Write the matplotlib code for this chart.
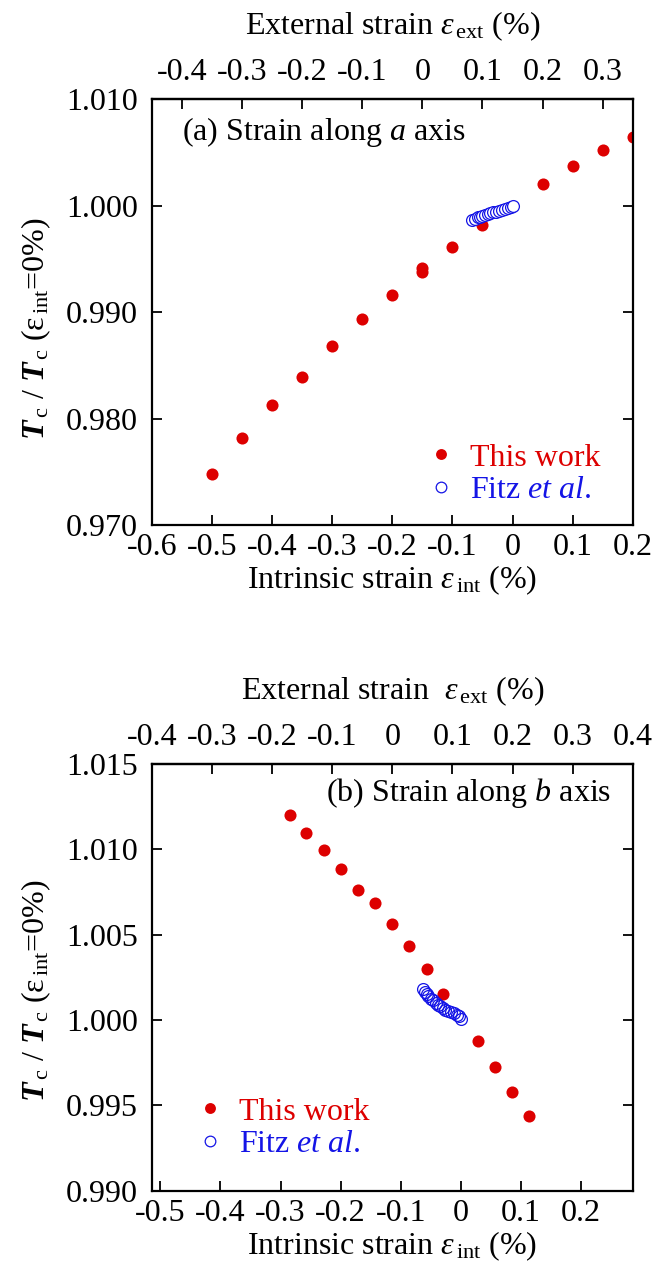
import matplotlib
matplotlib.use('Agg')
import matplotlib.pyplot as plt
import numpy as np
from matplotlib.ticker import FuncFormatter, FixedLocator

plt.rcParams['font.family'] = ['Liberation Serif', 'DejaVu Serif']
plt.rcParams['mathtext.fontset'] = 'custom'
plt.rcParams['mathtext.rm'] = 'Liberation Serif'
plt.rcParams['mathtext.it'] = 'Liberation Serif:italic'
plt.rcParams['mathtext.bf'] = 'Liberation Serif:style=italic:weight=bold'
plt.rcParams['axes.unicode_minus'] = False

# ---------------- data: panel (a) strain along a axis ----------------
a_this_x = [-0.50, -0.45, -0.40, -0.35, -0.30, -0.25, -0.20, -0.15, -0.15,
            -0.10, -0.05, 0.05, 0.10, 0.15, 0.20]
a_this_y = [0.97476, 0.97820, 0.98127, 0.98387, 0.98681, 0.98934, 0.99157,
            0.99416, 0.99378, 0.99613, 0.99817, 1.00199, 1.00368, 1.00518, 1.00646]
a_fitz_x = [-0.067, -0.062, -0.058, -0.054, -0.050, -0.045, -0.041, -0.037,
            -0.032, -0.028, -0.023, -0.018, -0.013, -0.008, -0.003, 0.000]
a_fitz_y = [0.99860, 0.99875, 0.99890, 0.99893, 0.99905, 0.99912, 0.99920, 0.99928,
            0.99935, 0.99942, 0.99950, 0.99958, 0.99965, 0.99975, 0.99988, 1.00000]

# ---------------- data: panel (b) strain along b axis ----------------
b_this_x = [-0.285, -0.257, -0.228, -0.200, -0.171, -0.143, -0.114, -0.086,
            -0.057, -0.029, 0.028, 0.057, 0.085, 0.114]
b_this_y = [1.01200, 1.01098, 1.00997, 1.00884, 1.00763, 1.00688, 1.00565, 1.00436,
            1.00300, 1.00151, 0.99877, 0.99727, 0.99579, 0.99440]
b_fitz_x = [-0.063, -0.060, -0.057, -0.054, -0.050, -0.046, -0.042, -0.038, -0.034,
            -0.030, -0.026, -0.022, -0.017, -0.012, -0.007, -0.003, 0.000]
b_fitz_y = [1.00180, 1.00165, 1.00150, 1.00140, 1.00125, 1.00115, 1.00100, 1.00090,
            1.00082, 1.00070, 1.00060, 1.00055, 1.00045, 1.00040, 1.00030, 1.00025, 1.00005]

# axis settings
a_shift = 0.15      # external = intrinsic + shift
b_shift = 0.114
a_xlim = (-0.6, 0.2)
b_xlim = (-0.514, 0.286)
a_ylim = (0.970, 1.010)
b_ylim = (0.990, 1.015)
a_xticks = [-0.6, -0.5, -0.4, -0.3, -0.2, -0.1, 0.0, 0.1, 0.2]
b_xticks = [-0.5, -0.4, -0.3, -0.2, -0.1, 0.0, 0.1, 0.2]
a_topticks = [-0.4, -0.3, -0.2, -0.1, 0.0, 0.1, 0.2, 0.3]
b_topticks = [-0.4, -0.3, -0.2, -0.1, 0.0, 0.1, 0.2, 0.3, 0.4]
a_yticks = [0.970, 0.980, 0.990, 1.000, 1.010]
b_yticks = [0.990, 0.995, 1.000, 1.005, 1.010, 1.015]

RED = '#dd0000'
BLUE = '#1414e6'
FS = 23

def fmt_x(v, pos=None):
    if abs(v) < 1e-9:
        return '0'
    return f'{v:.1f}'

def fmt_y(v, pos=None):
    return f'{v:.3f}'

fig = plt.figure(figsize=(6.54, 12.70), dpi=100)
axa = fig.add_axes([0.2324, 0.5866, 0.735, 0.3354])
axb = fig.add_axes([0.2324, 0.0624, 0.735, 0.3360])

ylabel = r'$\mathbf{T}_{\,\mathrm{c}}$ / $\mathbf{T}_{\,\mathrm{c}}$ ($\mathrm{\varepsilon}_{\,\mathrm{int}}$=0%)'

def style(ax, shift, xlim, ylim, xticks, topticks, yticks, ylab_y, toplabel):
    ax.set_xlim(*xlim)
    ax.set_ylim(*ylim)
    ax.xaxis.set_major_locator(FixedLocator(xticks))
    ax.yaxis.set_major_locator(FixedLocator(yticks))
    ax.xaxis.set_major_formatter(FuncFormatter(fmt_x))
    ax.yaxis.set_major_formatter(FuncFormatter(fmt_y))
    ax.tick_params(axis='x', direction='in', length=7, width=1.3, labelsize=FS,
                   top=False, bottom=True, pad=6)
    ax.tick_params(axis='y', direction='in', length=7, width=1.3, labelsize=FS,
                   left=True, right=True, pad=10)
    for s in ax.spines.values():
        s.set_linewidth(1.6)
    ax.set_xlabel(r'Intrinsic strain $\varepsilon_{\,\mathrm{int}}$ (%)', fontsize=FS, labelpad=1)
    ax.set_ylabel(ylabel, fontsize=FS)
    ax.yaxis.set_label_coords(-0.205, ylab_y)
    sec = ax.secondary_xaxis('top', functions=(lambda x: x + shift, lambda x: x - shift))
    sec.xaxis.set_major_locator(FixedLocator(topticks))
    sec.xaxis.set_major_formatter(FuncFormatter(fmt_x))
    sec.tick_params(axis='x', direction='in', length=7, width=1.3, labelsize=FS, pad=9)
    sec.spines['top'].set_linewidth(1.6)
    sec.set_xlabel(toplabel, fontsize=FS, labelpad=17)
    return sec

# panel (a)
axa.plot(a_this_x, a_this_y, 'o', color=RED, markersize=8.7, markeredgewidth=0,
         label='This work', zorder=2)
axa.plot(a_fitz_x, a_fitz_y, 'o', mfc='white', mec=BLUE, markersize=8.5,
         markeredgewidth=0.9, label=r'Fitz $\mathit{et\ al.}$', zorder=3)
style(axa, a_shift, a_xlim, a_ylim, a_xticks, a_topticks, a_yticks, 0.46,
      r'External strain $\varepsilon_{\,\mathrm{ext}}$ (%)')
axa.text(0.062, 0.923, r'(a) Strain along $\mathit{a}$ axis', transform=axa.transAxes,
         fontsize=FS, ha='left', va='center')
axa.legend(loc='upper left', bbox_to_anchor=(0.569, 0.192), frameon=False, fontsize=FS,
           handlelength=1.0, handletextpad=0.4, labelspacing=0.1, borderpad=0,
           borderaxespad=0, labelcolor=[RED, BLUE], markerscale=0.9)

# panel (b)
axb.plot(b_this_x, b_this_y, 'o', color=RED, markersize=8.7, markeredgewidth=0,
         label='This work', zorder=2)
axb.plot(b_fitz_x, b_fitz_y, 'o', mfc='none', mec=BLUE, markersize=8.5,
         markeredgewidth=0.9, label=r'Fitz $\mathit{et\ al.}$', zorder=3)
style(axb, b_shift, b_xlim, b_ylim, b_xticks, b_topticks, b_yticks, 0.47,
      r'External strain  $\varepsilon_{\,\mathrm{ext}}$ (%)')
axb.text(0.956, 0.931, r'(b) Strain along $\mathit{b}$ axis', transform=axb.transAxes,
         fontsize=FS, ha='right', va='center')
axb.legend(loc='upper left', bbox_to_anchor=(0.0874, 0.219), frameon=False, fontsize=FS,
           handlelength=1.0, handletextpad=0.4, labelspacing=0.1, borderpad=0,
           borderaxespad=0, labelcolor=[RED, BLUE], markerscale=0.9)

fig.savefig('out.png', dpi=100)
